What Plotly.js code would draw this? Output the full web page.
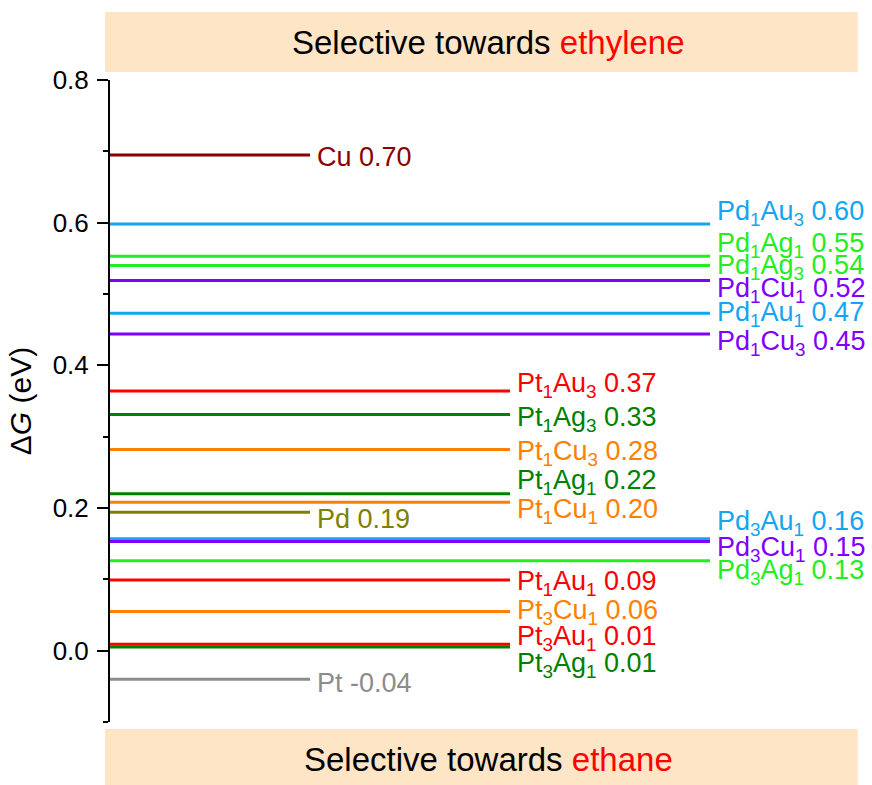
<!DOCTYPE html>
<html>
<head>
<meta charset="utf-8">
<script src="https://cdn.plot.ly/plotly-3.0.1.min.js"></script>
<style>html,body{margin:0;padding:0;background:#fff;}#chart{width:872px;height:785px;}</style>
</head>
<body>
<div id="chart"></div>
<script>
// ---- data ----
const materials = [
  "Cu", "Pd", "Pt",
  "Pt<sub>1</sub>Au<sub>3</sub>", "Pt<sub>1</sub>Ag<sub>3</sub>", "Pt<sub>1</sub>Cu<sub>3</sub>",
  "Pt<sub>1</sub>Ag<sub>1</sub>", "Pt<sub>1</sub>Cu<sub>1</sub>", "Pt<sub>1</sub>Au<sub>1</sub>",
  "Pt<sub>3</sub>Cu<sub>1</sub>", "Pt<sub>3</sub>Au<sub>1</sub>", "Pt<sub>3</sub>Ag<sub>1</sub>",
  "Pd<sub>1</sub>Au<sub>3</sub>", "Pd<sub>1</sub>Ag<sub>1</sub>", "Pd<sub>1</sub>Ag<sub>3</sub>",
  "Pd<sub>1</sub>Cu<sub>1</sub>", "Pd<sub>1</sub>Au<sub>1</sub>", "Pd<sub>1</sub>Cu<sub>3</sub>",
  "Pd<sub>3</sub>Au<sub>1</sub>", "Pd<sub>3</sub>Cu<sub>1</sub>", "Pd<sub>3</sub>Ag<sub>1</sub>"
];
const family = [
  "pure", "pure", "pure",
  "Pt", "Pt", "Pt", "Pt", "Pt", "Pt", "Pt", "Pt", "Pt",
  "Pd", "Pd", "Pd", "Pd", "Pd", "Pd", "Pd", "Pd", "Pd"
];
const deltaG = [
  0.695, 0.194, -0.040,
  0.364, 0.331, 0.282, 0.220, 0.208, 0.099, 0.055, 0.009, 0.005,
  0.598, 0.553, 0.540, 0.519, 0.473, 0.444, 0.157, 0.153, 0.126
];
const deltaGText = [
  "0.70", "0.19", "-0.04",
  "0.37", "0.33", "0.28", "0.22", "0.20", "0.09", "0.06", "0.01", "0.01",
  "0.60", "0.55", "0.54", "0.52", "0.47", "0.45", "0.16", "0.15", "0.13"
];
const yTickVals = [0.0, 0.2, 0.4, 0.6, 0.8];
const topBannerText = ["Selective towards ", "ethylene"];
const bottomBannerText = ["Selective towards ", "ethane"];

// ---- styles (kept separate from data) ----
const colors = [
  "#8B0000", "#808000", "#8C8C8C",
  "#FF0000", "#008000", "#FF8000", "#008000", "#FF8000", "#FF0000", "#FF8000", "#FF0000", "#008000",
  "#12A6F2", "#22EE22", "#22EE22", "#8000FF", "#12A6F2", "#8000FF", "#12A6F2", "#8000FF", "#22EE22"
];
// vertical label offsets in pixels (positive = down)
const labelShiftPx = [
  2, 7, 4,
  -6, 4, 3, -12, 9, 3, 1, -6, 18,
  -11, -11, 2, 10, 1, 9, -16, 7, 11
];
const lineEnd = {pure: 1, Pt: 2, Pd: 3};

const FONT = "Liberation Sans, Arial, sans-serif";

const traces = materials.map((m, i) => ({
  type: "scatter",
  mode: "lines",
  x: [0, lineEnd[family[i]]],
  y: [deltaG[i], deltaG[i]],
  line: {color: colors[i], width: 3},
  hoverinfo: "skip",
  showlegend: false,
  cliponaxis: false
}));

const annotations = materials.map((m, i) => ({
  x: lineEnd[family[i]],
  y: deltaG[i],
  xref: "x", yref: "y",
  xanchor: "left", yanchor: "middle",
  xshift: 5,
  yshift: -labelShiftPx[i],
  text: m + " " + deltaGText[i],
  showarrow: false,
  font: {family: FONT, size: 27, color: colors[i]}
}));

annotations.push({
  xref: "paper", yref: "paper", x: 0.505, y: 1.058,
  xanchor: "center", yanchor: "middle", showarrow: false,
  text: topBannerText[0] + "<span style='color:#FF0000'>" + topBannerText[1] + "</span>",
  font: {family: FONT, size: 33, color: "#000"}
});
annotations.push({
  xref: "paper", yref: "paper", x: 0.505, y: -0.059,
  xanchor: "center", yanchor: "middle", showarrow: false,
  text: bottomBannerText[0] + "<span style='color:#FF0000'>" + bottomBannerText[1] + "</span>",
  font: {family: FONT, size: 33, color: "#000"}
});

const shapes = [
  {type: "rect", xref: "paper", yref: "paper", x0: -0.0067, x1: 0.997, y0: 1.0125, y1: 1.106,
   fillcolor: "#FDE5C6", line: {width: 0}, layer: "below"},
  {type: "rect", xref: "paper", yref: "paper", x0: -0.0067, x1: 0.997, y0: -0.0109, y1: -0.1,
   fillcolor: "#FDE5C6", line: {width: 0}, layer: "below"}
];

const layout = {
  width: 872, height: 785,
  margin: {l: 110, r: 12, t: 80, b: 63},
  paper_bgcolor: "#fff", plot_bgcolor: "rgba(0,0,0,0)",
  font: {family: FONT, size: 26, color: "#000"},
  xaxis: {range: [0, 3.75], visible: false, fixedrange: true},
  yaxis: {
    range: [-0.1, 0.8],
    tickvals: yTickVals,
    ticktext: yTickVals.map(v => v.toFixed(1)),
    ticks: "outside", ticklen: 11, tickwidth: 2, tickcolor: "#000",
    showline: true, linewidth: 2, linecolor: "#000",
    showgrid: false, zeroline: false,
    tickfont: {family: FONT, size: 26, color: "#000"},
    ticklabelstandoff: 3,
    minor: {dtick: 0.1, tick0: 0, ticks: "outside", ticklen: 5, tickwidth: 2, tickcolor: "#000", showgrid: false},
    title: {text: "Δ<i>G</i> (eV)", font: {family: FONT, size: 30, color: "#000"}, standoff: 12},
    automargin: false
  },
  shapes: shapes,
  annotations: annotations
};

Plotly.newPlot("chart", traces, layout, {displayModeBar: false, staticPlot: true});
</script>
</body>
</html>
